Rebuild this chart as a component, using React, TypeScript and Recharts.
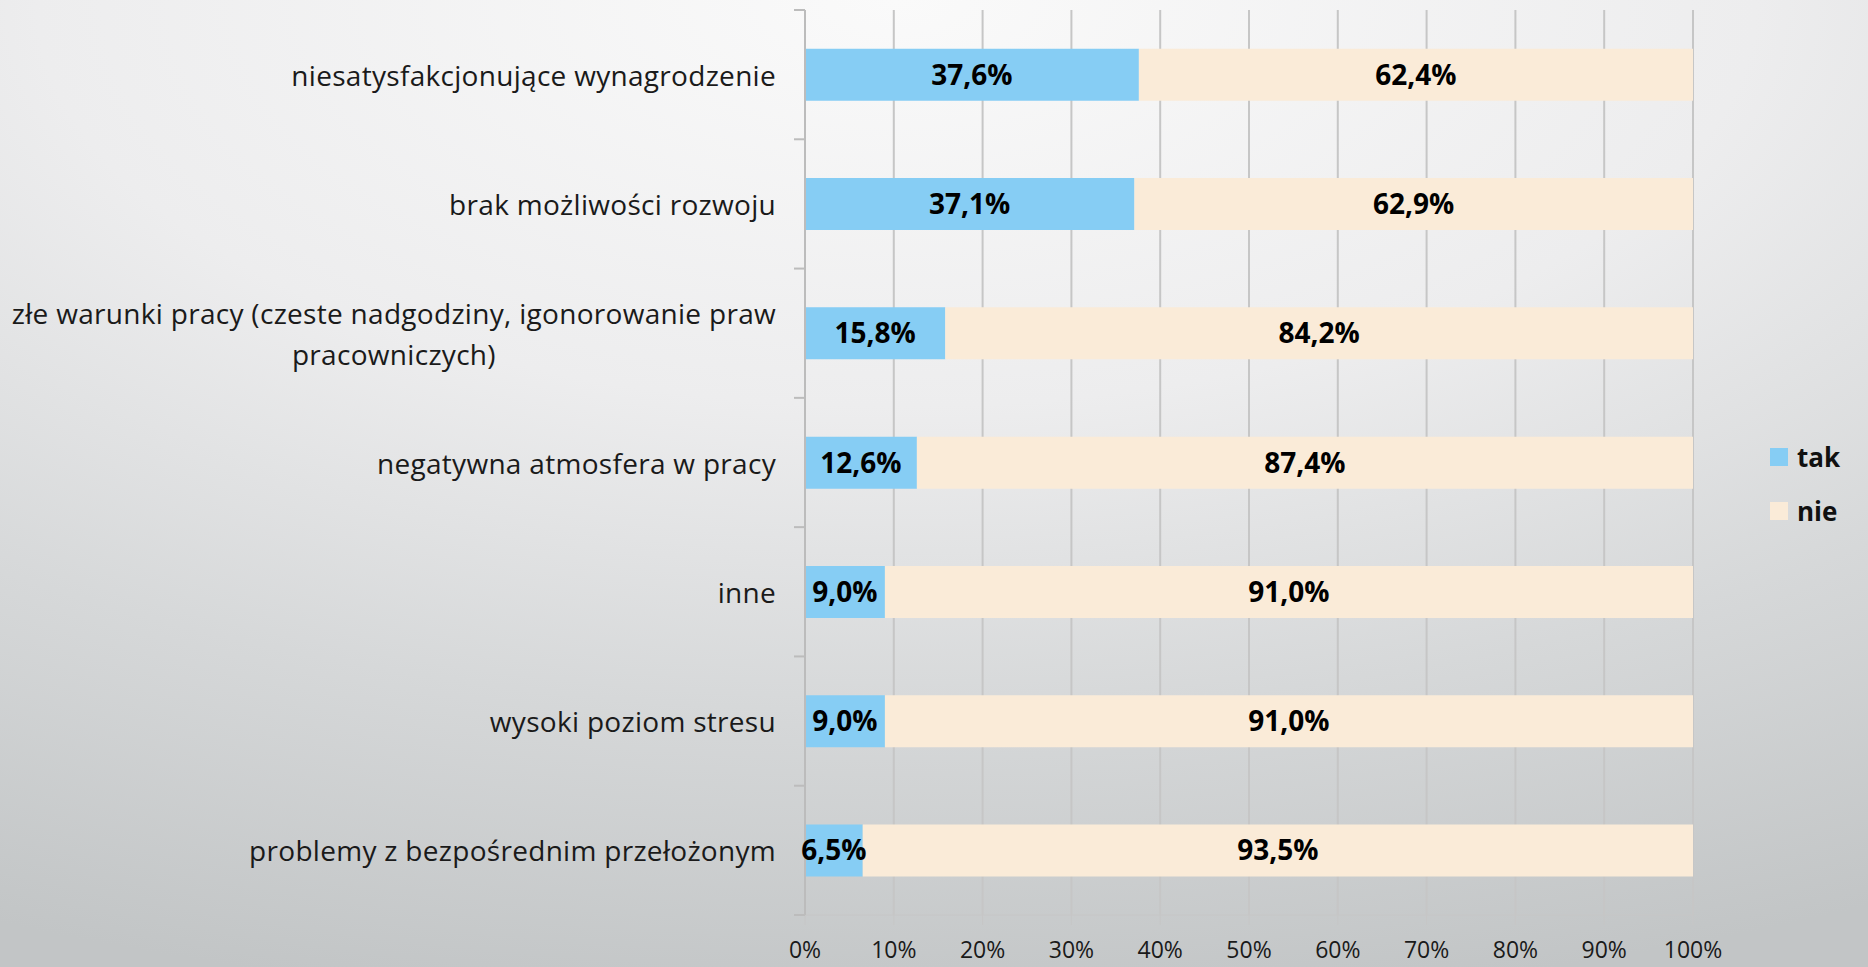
import { BarChart, Bar, XAxis, YAxis, CartesianGrid, LabelList, Legend } from "recharts";

const categories = [
  "niesatysfakcjonujące wynagrodzenie",
  "brak możliwości rozwoju",
  "złe warunki pracy (czeste nadgodziny, igonorowanie praw\npracowniczych)",
  "negatywna atmosfera w pracy",
  "inne",
  "wysoki poziom stresu",
  "problemy z bezpośrednim przełożonym",
];
const takValues = [37.6, 37.1, 15.8, 12.6, 9.0, 9.0, 6.5];
const nieValues = [62.4, 62.9, 84.2, 87.4, 91.0, 91.0, 93.5];
const xTicks = [0, 10, 20, 30, 40, 50, 60, 70, 80, 90, 100];
const seriesOrder = ["tak", "nie"];

const W = 1868;
const H = 967;
const TOP = 10;
const BOTTOM_AXIS = 52;
const PLOT_H = H - TOP - BOTTOM_AXIS;
const FONT = "'Open Sans', 'DejaVu Sans', sans-serif";
const TAK = "#86cdf4";
const NIE = "#faebd8";
const GRID = "#c6c6c6";
const AXIS = "#bcbcbc";
const LABEL_GAP = 29;
const TICK_LEN = 11;
const CAT_SIZE = 28;
const CAT_SPACING = 0.3;

const data = categories.map((name, i) => ({ name, tak: takValues[i], nie: nieValues[i] }));

let ctx: CanvasRenderingContext2D | null = null;
function textWidth(s: string) {
  if (!ctx) ctx = document.createElement("canvas").getContext("2d");
  if (!ctx) return s.length * 14;
  ctx.font = `${CAT_SIZE}px 'Open Sans'`;
  return ctx.measureText(s).width + s.length * CAT_SPACING;
}

const pct = (v: number) => `${v.toFixed(1).replace(".", ",")}%`;

function CategoryTick(props: any) {
  const { x, y, payload, index } = props;
  const lines = String(payload.value).split("\n");
  const lh = 41;
  const maxW = Math.max(...lines.map((l) => textWidth(l)));
  const half = PLOT_H / categories.length / 2;
  const axisX = x + LABEL_GAP;
  return (
    <g>
      {index === 0 && (
        <line x1={axisX - TICK_LEN} x2={axisX} y1={y - half} y2={y - half} stroke={AXIS} strokeWidth={2} />
      )}
      <line x1={axisX - TICK_LEN} x2={axisX} y1={y + half} y2={y + half} stroke={AXIS} strokeWidth={2} />
      {lines.map((l, i) => (
        <text
          key={i}
          x={lines.length > 1 ? x - maxW / 2 : x}
          y={y + (i - (lines.length - 1) / 2) * lh}
          textAnchor={lines.length > 1 ? "middle" : "end"}
          dominantBaseline="central"
          fontFamily={FONT}
          fontSize={CAT_SIZE}
          letterSpacing={CAT_SPACING}
          fill="#1a1a1a"
        >
          {l}
        </text>
      ))}
    </g>
  );
}

function PercentTick(props: any) {
  const { x, y, payload } = props;
  return (
    <text x={x} y={y + 24} textAnchor="middle" dominantBaseline="central" fontFamily={FONT} fontSize={23} fill="#1a1a1a">
      {payload.value}%
    </text>
  );
}

function LegendBox(props: any) {
  const items = [...((props.payload || []) as any[])].sort(
    (a, b) => seriesOrder.indexOf(a.value) - seriesOrder.indexOf(b.value)
  );
  return (
    <div style={{ fontFamily: FONT }}>
      {items.map((it) => (
        <div key={it.value} style={{ display: "flex", alignItems: "center", height: 54 }}>
          <span style={{ width: 18, height: 18, background: it.color, marginRight: 9, display: "inline-block" }} />
          <span style={{ fontSize: 26, fontWeight: 700, color: "#111" }}>{it.value}</span>
        </div>
      ))}
    </div>
  );
}

export default function App() {
  return (
    <div
      style={{
        position: "absolute",
        left: 0,
        top: 0,
        width: W,
        height: H,
        background:
          "radial-gradient(ellipse 115% 105% at 48% 0%, #fafafa 0%, #ededee 40%, #d6d8d9 70%, #c2c5c6 100%)",
      }}
    >
      <BarChart
        width={W}
        height={H}
        data={data}
        layout="vertical"
        barCategoryGap="30%"
        margin={{ top: TOP, right: 175, bottom: 0, left: 0 }}
      >
        <CartesianGrid horizontal={false} stroke={GRID} strokeWidth={2} />
        <XAxis
          type="number"
          domain={[0, 100]}
          ticks={xTicks}
          height={BOTTOM_AXIS}
          tickSize={10}
          tickMargin={0}
          stroke={GRID}
          tickLine={{ stroke: GRID }}
          tick={<PercentTick />}
          interval={0}
        />
        <YAxis
          type="category"
          dataKey="name"
          width={805}
          tickSize={0}
          tickMargin={LABEL_GAP}
          axisLine={{ stroke: AXIS, strokeWidth: 2 }}
          tickLine={false}
          tick={<CategoryTick />}
          interval={0}
        />
        <Legend
          layout="vertical"
          align="center"
          verticalAlign="middle"
          wrapperStyle={{ left: 1770, top: 430, width: 90, height: 108 }}
          content={<LegendBox />}
        />
        <Bar dataKey="tak" name="tak" stackId="a" fill={TAK} isAnimationActive={false}>
          <LabelList
            dataKey="tak"
            position="center"
            formatter={(v: any) => pct(Number(v))}
            fill="#000"
            fontFamily={FONT}
            fontSize={28}
            fontWeight={700}
          />
        </Bar>
        <Bar dataKey="nie" name="nie" stackId="a" fill={NIE} isAnimationActive={false}>
          <LabelList
            dataKey="nie"
            position="center"
            formatter={(v: any) => pct(Number(v))}
            fill="#000"
            fontFamily={FONT}
            fontSize={28}
            fontWeight={700}
          />
        </Bar>
      </BarChart>
    </div>
  );
}
